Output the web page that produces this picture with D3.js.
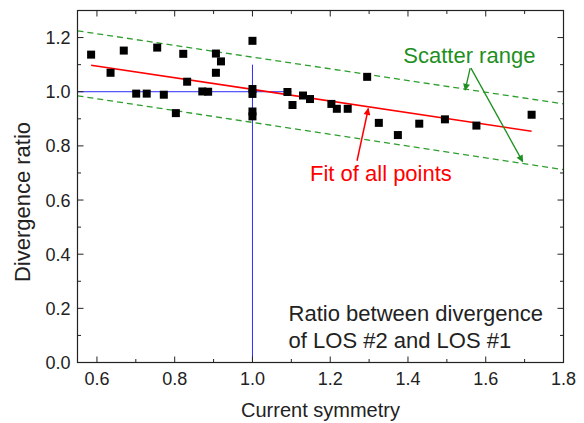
<!DOCTYPE html>
<html>
<head>
<meta charset="utf-8">
<script src="https://cdn.jsdelivr.net/npm/d3@7"></script>
<style>
  body { margin: 0; background: #fff; }
  text { font-family: "Liberation Sans", Arial, sans-serif; }
</style>
</head>
<body>
<svg id="chart" width="584" height="423"></svg>
<script>
// measured points: current symmetry vs divergence ratio
var sym = [0.585, 0.635, 0.669, 0.701, 0.728, 0.755, 0.772, 0.803, 0.822, 0.832,
           0.871, 0.886, 0.906, 0.906, 0.919, 1.0, 1.0, 1.0, 1.0, 1.0,
           1.090, 1.103, 1.130, 1.148, 1.203, 1.217, 1.245, 1.295, 1.325, 1.374,
           1.429, 1.495, 1.576, 1.718];
var ratio = [1.137, 1.070, 1.152, 0.993, 0.993, 1.163, 0.989, 0.921, 1.140, 1.037,
             1.001, 1.000, 1.070, 1.141, 1.112, 1.188, 1.010, 0.992, 0.927, 0.909,
             0.999, 0.951, 0.986, 0.973, 0.955, 0.937, 0.937, 1.055, 0.885, 0.840,
             0.882, 0.898, 0.875, 0.915];

var fitLine = [[0.585, 1.098], [1.718, 0.854]];
var upperRange = [[0.55, 1.225], [1.8, 0.955]];
var lowerRange = [[0.55, 0.985], [1.8, 0.712]];
var refH = [[0.55, 1.0], [1.1, 1.0]];
var refV = [[1.0, 0.0], [1.0, 1.1]];

var xTicks = [0.6, 0.8, 1.0, 1.2, 1.4, 1.6, 1.8];
var yTicks = [0.0, 0.2, 0.4, 0.6, 0.8, 1.0, 1.2];

var svg = d3.select("#chart");
var pLeft = 77.5, pRight = 563.5, pTop = 10.5, pBottom = 362.5;

var x = d3.scaleLinear().domain([0.55, 1.8]).range([pLeft, pRight]);
var y = d3.scaleLinear().domain([0, 1.3]).range([pBottom, pTop]);

var line = d3.line()
    .x(function (d) { return x(d[0]); })
    .y(function (d) { return y(d[1]); });

// arrow heads
var defs = svg.append("defs");
function marker(id, color) {
    defs.append("marker")
        .attr("id", id)
        .attr("viewBox", "0 0 10 10")
        .attr("refX", 9).attr("refY", 5)
        .attr("markerWidth", 9).attr("markerHeight", 7)
        .attr("markerUnits", "userSpaceOnUse")
        .attr("orient", "auto")
        .append("path")
        .attr("d", "M0,0 L10,5 L0,10 Z")
        .attr("fill", color);
}
marker("arrowG", "#1f8f1f");
marker("arrowR", "#ff0000");

// reference lines
svg.append("path").attr("d", line(refH)).attr("stroke", "#2b2bff").attr("stroke-width", 1).attr("fill", "none");
svg.append("path").attr("d", line(refV)).attr("stroke", "#2b2bff").attr("stroke-width", 1).attr("fill", "none");

// scatter range
[upperRange, lowerRange].forEach(function (r) {
    svg.append("path").attr("d", line(r))
        .attr("stroke", "#2e9e2e").attr("stroke-width", 1.3)
        .attr("stroke-dasharray", "6,4").attr("fill", "none");
});

// fit
svg.append("path").attr("d", line(fitLine))
    .attr("stroke", "#ff0000").attr("stroke-width", 1.6).attr("fill", "none");

// points
var pts = sym.map(function (s, i) { return [s, ratio[i]]; });
svg.append("g").selectAll("rect").data(pts).enter().append("rect")
    .attr("x", function (d) { return x(d[0]) - 4; })
    .attr("y", function (d) { return y(d[1]) - 4; })
    .attr("width", 8).attr("height", 8)
    .attr("fill", "#000");

// frame
svg.append("rect").attr("x", pLeft).attr("y", pTop)
    .attr("width", pRight - pLeft).attr("height", pBottom - pTop)
    .attr("fill", "none").attr("stroke", "#222").attr("stroke-width", 1.2);

// ticks (inward, on all four sides)
var xMinor = d3.range(0.6, 1.81, 0.1);
var yMinor = d3.range(0.0, 1.31, 0.1);
var tg = svg.append("g").attr("stroke", "#222").attr("stroke-width", 1);
xMinor.forEach(function (v, i) {
    var len = (i % 2 === 0) ? 6 : 3.5;
    tg.append("line").attr("x1", x(v)).attr("x2", x(v)).attr("y1", pBottom).attr("y2", pBottom - len);
    tg.append("line").attr("x1", x(v)).attr("x2", x(v)).attr("y1", pTop).attr("y2", pTop + len);
});
yMinor.forEach(function (v, i) {
    var len = (i % 2 === 0) ? 6 : 3.5;
    tg.append("line").attr("y1", y(v)).attr("y2", y(v)).attr("x1", pLeft).attr("x2", pLeft + len);
    tg.append("line").attr("y1", y(v)).attr("y2", y(v)).attr("x1", pRight).attr("x2", pRight - len);
});

// tick labels
svg.append("g").selectAll("text").data(xTicks).enter().append("text")
    .attr("x", function (d) { return x(d); })
    .attr("y", pBottom + 22)
    .attr("text-anchor", "middle")
    .attr("font-size", 18).attr("fill", "#222")
    .text(function (d) { return d.toFixed(1); });
svg.append("g").selectAll("text").data(yTicks).enter().append("text")
    .attr("x", pLeft - 7)
    .attr("y", function (d) { return y(d) + 6.5; })
    .attr("text-anchor", "end")
    .attr("font-size", 18).attr("fill", "#222")
    .text(function (d) { return d.toFixed(1); });

// axis titles
svg.append("text").attr("x", (pLeft + pRight) / 2).attr("y", 417)
    .attr("text-anchor", "middle").attr("font-size", 20).attr("fill", "#222")
    .text("Current symmetry");
svg.append("text").attr("transform", "translate(30,202) rotate(-90)")
    .attr("text-anchor", "middle").attr("font-size", 22).attr("fill", "#222")
    .text("Divergence ratio");

// annotations
svg.append("text").attr("x", x(1.388)).attr("y", y(1.107))
    .attr("font-size", 22).attr("fill", "#1f8f1f").text("Scatter range");
svg.append("path").attr("d", line([[1.56, 1.087], [1.547, 1.006]]))
    .attr("stroke", "#1f8f1f").attr("stroke-width", 1.3).attr("marker-end", "url(#arrowG)");
svg.append("path").attr("d", line([[1.562, 1.087], [1.695, 0.742]]))
    .attr("stroke", "#1f8f1f").attr("stroke-width", 1.3).attr("marker-end", "url(#arrowG)");

svg.append("text").attr("x", x(1.148)).attr("y", y(0.672))
    .attr("font-size", 22).attr("fill", "#ff0000").text("Fit of all points");
svg.append("path").attr("d", line([[1.269, 0.745], [1.298, 0.938]]))
    .attr("stroke", "#ff0000").attr("stroke-width", 1.5).attr("marker-end", "url(#arrowR)");

svg.append("text").attr("x", x(1.093)).attr("y", y(0.153))
    .attr("font-size", 22).attr("fill", "#222").text("Ratio between divergence");
svg.append("text").attr("x", x(1.093)).attr("y", y(0.053))
    .attr("font-size", 22).attr("fill", "#222").text("of LOS #2 and LOS #1");
</script>
</body>
</html>
